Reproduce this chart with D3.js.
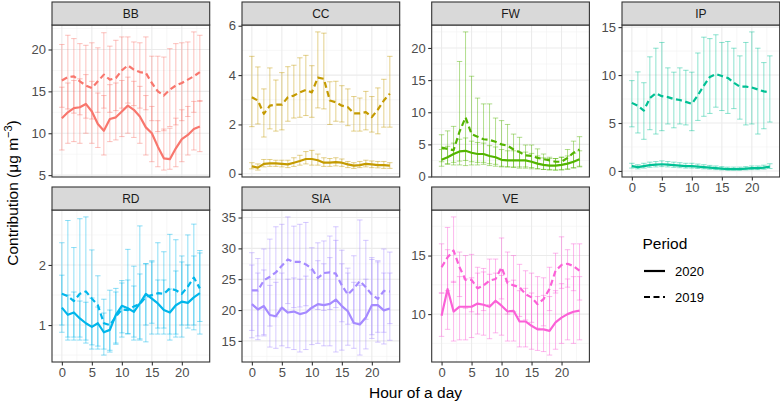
<!DOCTYPE html>
<html><head><meta charset="utf-8">
<script src="https://cdn.jsdelivr.net/npm/d3@7"></script>
<style>body{margin:0;background:#fff}svg{display:block}text{font-family:"Liberation Sans",Arial,Helvetica,sans-serif}</style>
</head><body><svg id="c" width="780" height="402"></svg>
<script>
const hours = d3.range(0, 24);
const sources = ["BB","CC","FW","IP","RD","SIA","VE"];
const periods = ["2020","2019"];
const colors = ["#F8766D","#C49A00","#53B400","#00C094","#00B6EB","#A58AFF","#FB61D7"];
const xTickLabels = [0,5,10,15,20];
const BB_ticks = [5,10,15,20], CC_ticks = [0,2,4,6], FW_ticks = [0,5,10,15,20], IP_ticks = [0,5,10,15], RD_ticks = [1,2], SIA_ticks = [15,20,25,30,35], VE_ticks = [10,15];

// BB
const BB_2020_mean = [11.8,12.5,13.0,13.1,13.5,12.6,11.1,10.3,11.7,11.9,12.6,13.3,12.8,12.0,10.7,10.0,8.4,7.0,6.9,8.2,9.3,9.8,10.5,10.8];
const BB_2020_lo = [8.0,8.8,9.0,8.8,10.0,8.8,8.3,7.4,9.0,9.2,9.6,10.0,9.5,8.8,7.4,6.6,6.0,5.6,5.7,6.0,6.6,7.4,8.0,7.8];
const BB_2020_hi = [15.5,16.0,16.3,16.5,17.0,16.2,14.8,14.5,15.8,16.0,16.3,16.7,16.2,15.6,14.5,13.2,11.5,10.5,10.6,11.8,12.8,13.2,13.8,13.9];
const BB_2019_mean = [16.3,16.7,16.8,16.2,15.7,15.4,16.2,17.0,16.4,16.6,17.5,18.1,17.6,17.3,17.2,16.0,15.0,14.5,15.2,15.7,16.0,16.4,16.8,17.3];
const BB_2019_lo = [13.1,12.9,12.4,12.2,11.8,11.7,12.5,13.0,12.5,12.7,13.0,13.6,13.3,13.0,12.8,11.5,10.2,10.3,10.8,11.0,11.5,12.0,12.5,13.8];
const BB_2019_hi = [20.6,21.7,21.3,20.7,20.5,20.8,20.2,22.0,20.4,21.1,21.5,21.5,20.9,20.8,21.5,19.2,19.2,19.1,20.1,20.7,20.8,20.9,22.1,21.7];
// CC
const CC_2020_mean = [0.3,0.25,0.4,0.42,0.42,0.4,0.38,0.45,0.52,0.6,0.6,0.55,0.45,0.45,0.47,0.45,0.38,0.33,0.35,0.4,0.38,0.35,0.35,0.33];
const CC_2020_lo = [0.2,0.15,0.28,0.3,0.3,0.28,0.25,0.3,0.35,0.4,0.35,0.35,0.3,0.3,0.32,0.3,0.25,0.22,0.25,0.28,0.25,0.24,0.22,0.22];
const CC_2020_hi = [0.45,0.4,0.58,0.58,0.55,0.55,0.55,0.65,0.75,0.9,0.95,0.8,0.65,0.62,0.65,0.6,0.5,0.45,0.5,0.55,0.52,0.5,0.5,0.45];
const CC_2019_mean = [3.1,2.97,2.43,2.76,2.8,2.8,3.1,3.17,3.3,3.4,3.3,3.9,3.85,2.97,2.9,2.76,2.7,2.45,2.45,2.5,2.3,2.6,2.97,3.25];
const CC_2019_lo = [1.91,2.02,1.49,1.82,1.73,1.78,2.13,2.26,2.29,2.36,2.29,2.67,2.63,2.0,2.13,2.1,1.95,1.73,1.73,1.78,1.69,1.62,1.89,1.89];
const CC_2019_hi = [4.76,4.33,3.44,4.29,3.8,4.1,4.34,4.4,4.7,4.8,4.38,5.75,5.7,3.73,3.75,3.57,3.44,3.13,3.07,3.34,3.13,3.48,3.83,4.76];
// FW
const FW_2020_mean = [2.6,3.0,3.5,3.9,4.0,3.7,3.5,3.5,3.2,3.0,2.6,2.5,2.5,2.5,2.5,2.3,2.0,1.8,1.7,1.7,1.8,2.0,2.3,2.7];
const FW_2020_lo = [1.6,1.9,2.2,2.4,2.5,2.3,2.2,2.2,2.0,1.9,1.6,1.5,1.5,1.5,1.5,1.4,1.2,1.1,1.0,1.0,1.1,1.2,1.4,1.6];
const FW_2020_hi = [4.2,4.7,5.2,5.8,6.0,5.5,5.3,5.2,4.8,4.6,4.2,4.0,4.0,3.8,3.8,3.6,3.2,2.9,2.8,2.8,3.0,3.2,3.6,4.0];
const FW_2019_mean = [4.5,4.3,4.1,7.0,9.2,6.6,6.2,5.8,5.7,5.4,5.0,4.8,4.2,3.8,3.3,3.2,2.9,2.7,2.5,2.3,2.3,2.9,3.7,4.2];
const FW_2019_lo = [2.3,2.0,1.8,1.8,1.7,1.8,1.8,1.9,1.7,1.6,1.5,1.5,1.4,1.3,1.3,1.2,1.2,1.1,1.1,1.0,1.0,1.1,1.3,1.5];
const FW_2019_hi = [6.5,7.1,7.8,17.9,22.5,15.6,12.2,11.3,11.3,9.1,8.7,8.1,6.6,6.1,4.9,4.9,4.3,3.5,3.0,2.8,3.0,4.2,5.5,6.2];
// IP
const IP_2020_mean = [0.5,0.4,0.5,0.6,0.65,0.7,0.65,0.6,0.55,0.5,0.5,0.45,0.4,0.35,0.3,0.25,0.2,0.2,0.2,0.25,0.3,0.3,0.35,0.45];
const IP_2020_lo = [0.3,0.22,0.3,0.38,0.42,0.45,0.42,0.38,0.34,0.3,0.3,0.26,0.22,0.18,0.14,0.11,0.09,0.09,0.09,0.11,0.14,0.14,0.18,0.25];
const IP_2020_hi = [0.8,0.65,0.8,0.92,0.98,1.05,0.98,0.92,0.86,0.8,0.8,0.72,0.65,0.58,0.52,0.45,0.4,0.4,0.4,0.45,0.52,0.52,0.6,0.75];
const IP_2019_mean = [7.1,6.8,6.3,7.6,8.1,7.8,7.7,7.5,7.4,7.2,7.0,7.9,8.9,9.8,10.1,9.9,9.7,9.2,8.8,8.8,8.7,8.5,8.3,8.2];
const IP_2019_lo = [4.6,3.96,3.3,4.3,3.85,4.2,4.9,4.5,4.9,4.8,4.2,5.27,5.7,6.0,6.65,6.3,6.0,6.5,5.4,4.8,4.9,3.85,4.4,5.1];
const IP_2019_hi = [9.42,10.33,9.2,11.9,12.8,13.4,10.75,10.3,10.75,10.5,10.3,12.3,13.95,13.8,14.2,13.4,13.5,12.8,12.0,13.4,14.5,12.8,11.3,12.0];
// RD
const RD_2020_mean = [1.29,1.17,1.21,1.11,1.03,0.97,1.03,0.88,0.92,1.17,1.32,1.28,1.22,1.36,1.52,1.44,1.36,1.25,1.21,1.33,1.39,1.37,1.46,1.53];
const RD_2020_lo = [0.88,0.75,0.75,0.75,0.7,0.6,0.6,0.5,0.55,0.7,0.8,0.85,0.75,0.75,0.72,0.85,0.85,0.85,0.75,0.8,0.8,0.95,0.92,0.85];
const RD_2020_hi = [1.83,1.5,1.55,1.4,1.38,1.45,1.3,1.2,1.25,1.55,1.7,1.75,1.65,1.85,2.02,2.05,1.75,1.75,1.6,1.9,2.05,2.0,2.15,2.2];
const RD_2019_mean = [1.52,1.48,1.4,1.52,1.56,1.44,1.33,1.03,1.0,1.14,1.26,1.25,1.31,1.35,1.47,1.5,1.53,1.52,1.61,1.58,1.52,1.64,1.79,1.61];
const RD_2019_lo = [1.0,0.8,0.8,0.8,0.75,0.67,0.65,0.6,0.58,0.68,0.87,0.86,0.8,0.77,1.0,1.03,0.95,0.95,0.85,0.85,1.0,1.0,1.0,1.06];
const RD_2019_hi = [2.37,2.74,2.29,2.77,2.8,2.25,1.82,1.43,1.58,1.61,1.74,2.26,1.98,2.65,2.02,2.07,2.37,2.22,2.51,2.42,2.15,2.5,2.68,2.24];
// SIA
const SIA_2020_mean = [20.95,20.1,20.65,19.2,19.0,20.4,19.6,19.75,19.35,19.6,20.4,20.95,20.8,21.0,21.7,20.65,19.8,17.9,17.65,18.8,20.8,20.8,19.95,20.25];
const SIA_2020_lo = [15.5,15.2,15.8,14.0,13.8,14.2,13.9,13.6,13.2,13.6,14.4,14.6,14.2,14.2,13.2,13.5,14.3,13.8,12.7,13.7,15.4,14.8,14.5,15.1];
const SIA_2020_hi = [27.3,26.0,26.5,24.0,24.5,26.0,25.0,25.2,25.0,25.5,26.5,28.0,27.5,28.5,31.3,27.5,26.0,24.5,24.0,25.0,28.5,28.0,26.0,26.0];
const SIA_2019_mean = [23.2,23.2,24.8,25.4,26.1,27.2,28.2,27.8,27.8,27.4,26.7,25.2,26.0,26.1,25.9,24.0,22.5,23.5,24.7,23.7,22.5,21.8,23.1,23.0];
const SIA_2019_lo = [16.7,15.8,16.0,17.4,18.9,20.3,21.05,20.4,20.5,20.7,20.3,20.1,19.95,20.1,20.4,18.1,17.7,17.9,17.9,18.5,16.0,16.4,16.4,17.8];
const SIA_2019_hi = [29.3,28.35,29.9,31.5,33.5,33.9,35.1,33.6,33.9,34.2,30.1,30.9,31.2,32.0,33.5,29.7,26.8,28.8,34.6,31.3,28.2,27.8,29.9,29.4];
// VE
const VE_2020_mean = [9.85,12.14,10.22,10.63,10.63,10.63,10.9,10.8,10.63,11.14,10.72,10.22,10.28,9.37,9.37,9.0,8.7,8.7,8.57,9.3,9.7,10.0,10.2,10.3];
const VE_2020_lo = [8.1,8.7,7.7,7.8,7.8,8.0,8.3,8.2,7.9,8.4,8.2,7.7,7.7,7.2,7.2,7.0,6.9,6.8,6.5,7.0,7.5,7.8,7.5,7.8];
const VE_2020_hi = [11.8,15.5,12.8,13.2,13.0,13.1,13.5,13.6,13.4,13.5,13.3,12.8,12.9,12.0,12.2,11.8,11.5,11.6,11.5,12.0,12.6,13.0,13.2,13.2];
const VE_2019_mean = [14.0,14.85,15.43,14.0,12.92,12.92,12.2,12.45,12.87,13.0,14.0,12.65,12.45,12.3,11.7,11.43,10.85,11.28,12.15,13.7,14.2,14.3,14.1,13.7];
const VE_2019_lo = [11.8,12.0,12.7,11.5,10.5,10.2,10.0,10.3,10.8,11.0,11.3,10.0,10.2,9.8,9.5,9.3,8.8,9.0,10.3,11.8,12.2,12.3,12.0,11.2];
const VE_2019_hi = [16.0,17.4,18.3,15.3,15.0,15.1,14.0,13.9,14.7,14.7,16.5,15.3,15.0,14.25,13.7,13.5,13.2,13.1,14.0,15.2,16.6,15.5,16.0,16.0];

const tables = {
  BB:{ticks:BB_ticks, d:{"2020":[BB_2020_mean,BB_2020_lo,BB_2020_hi],"2019":[BB_2019_mean,BB_2019_lo,BB_2019_hi]}},
  CC:{ticks:CC_ticks, d:{"2020":[CC_2020_mean,CC_2020_lo,CC_2020_hi],"2019":[CC_2019_mean,CC_2019_lo,CC_2019_hi]}},
  FW:{ticks:FW_ticks, d:{"2020":[FW_2020_mean,FW_2020_lo,FW_2020_hi],"2019":[FW_2019_mean,FW_2019_lo,FW_2019_hi]}},
  IP:{ticks:IP_ticks, d:{"2020":[IP_2020_mean,IP_2020_lo,IP_2020_hi],"2019":[IP_2019_mean,IP_2019_lo,IP_2019_hi]}},
  RD:{ticks:RD_ticks, d:{"2020":[RD_2020_mean,RD_2020_lo,RD_2020_hi],"2019":[RD_2019_mean,RD_2019_lo,RD_2019_hi]}},
  SIA:{ticks:SIA_ticks, d:{"2020":[SIA_2020_mean,SIA_2020_lo,SIA_2020_hi],"2019":[SIA_2019_mean,SIA_2019_lo,SIA_2019_hi]}},
  VE:{ticks:VE_ticks, d:{"2020":[VE_2020_mean,VE_2020_lo,VE_2020_hi],"2019":[VE_2019_mean,VE_2019_lo,VE_2019_hi]}}
};

const svg = d3.select("#c");
const colLeft = [52, 242, 431.7, 622];
const panelW = 157.7;
const rowTop = [2, 187];      // strip top
const stripH = 23;
const plotH = 152;
const dashes = {"2020":null, "2019":"6,3.5"};
const capW = 0.45;
// x range incl. error-bar caps, with 5% expansion
const xLo = 0 - capW, xHi = 23 + capW, xPad = (xHi - xLo) * 0.05;
const TICK_FONT = 13;

sources.forEach((src, i) => {
  const row = Math.floor(i / 4), col = i % 4;
  const left = colLeft[col];
  const top = rowTop[row] + stripH;
  const color = colors[i];
  const t = tables[src];
  const all = [];
  periods.forEach(p => { all.push(...t.d[p][1], ...t.d[p][2]); });
  const [mn, mx] = d3.extent(all);
  const pad = (mx - mn) * 0.05;
  const y = d3.scaleLinear().domain([mn - pad, mx + pad]).range([top + plotH, top]);
  const x = d3.scaleLinear().domain([xLo - xPad, xHi + xPad]).range([left, left + panelW]);
  const g = svg.append("g");

  g.append("rect").attr("x", left).attr("y", top).attr("width", panelW).attr("height", plotH).attr("fill", "#fff");
  // minor grid
  const yd = y.domain();
  const step = t.ticks[1] - t.ticks[0];
  const yMinor = [];
  for (let v = t.ticks[0] - step / 2; v <= yd[1]; v += step) if (v >= yd[0]) yMinor.push(v);
  const xMinor = [-2.5, 2.5, 7.5, 12.5, 17.5, 22.5].filter(v => v >= x.domain()[0] && v <= x.domain()[1]);
  g.selectAll(".ymin").data(yMinor).join("line")
    .attr("x1", left).attr("x2", left + panelW).attr("y1", d => y(d)).attr("y2", d => y(d))
    .attr("stroke", "#F2F2F2").attr("stroke-width", 0.6);
  g.selectAll(".xmin").data(xMinor).join("line")
    .attr("y1", top).attr("y2", top + plotH).attr("x1", d => x(d)).attr("x2", d => x(d))
    .attr("stroke", "#F2F2F2").attr("stroke-width", 0.6);
  const yMajor = t.ticks.filter(v => v >= yd[0] - 1e-6 && v <= yd[1] + 1e-6);
  g.selectAll(".ymaj").data(yMajor).join("line")
    .attr("x1", left).attr("x2", left + panelW).attr("y1", d => y(d)).attr("y2", d => y(d))
    .attr("stroke", "#EBEBEB").attr("stroke-width", 1.1);
  g.selectAll(".xmaj").data(xTickLabels).join("line")
    .attr("y1", top).attr("y2", top + plotH).attr("x1", d => x(d)).attr("x2", d => x(d))
    .attr("stroke", "#EBEBEB").attr("stroke-width", 1.1);

  // error bars
  periods.forEach(p => {
    const [mean, lo, hi] = t.d[p];
    const eb = g.append("g").attr("stroke", color).attr("stroke-opacity", 0.5).attr("stroke-width", 0.9).attr("fill", "none");
    hours.forEach(h => {
      eb.append("line").attr("x1", x(h)).attr("x2", x(h)).attr("y1", y(lo[h])).attr("y2", y(hi[h]));
      eb.append("line").attr("x1", x(h - capW)).attr("x2", x(h + capW)).attr("y1", y(lo[h])).attr("y2", y(lo[h]));
      eb.append("line").attr("x1", x(h - capW)).attr("x2", x(h + capW)).attr("y1", y(hi[h])).attr("y2", y(hi[h]));
    });
  });
  // mean lines
  periods.forEach(p => {
    const mean = t.d[p][0];
    const line = d3.line().x((d, k) => x(hours[k])).y(d => y(d));
    g.append("path").attr("d", line(mean)).attr("fill", "none").attr("stroke", color)
      .attr("stroke-width", 2.2).attr("stroke-linejoin", "round")
      .attr("stroke-dasharray", dashes[p]);
  });

  // border
  g.append("rect").attr("x", left).attr("y", top).attr("width", panelW).attr("height", plotH)
    .attr("fill", "none").attr("stroke", "#333333").attr("stroke-width", 1.1);
  // strip
  g.append("rect").attr("x", left).attr("y", rowTop[row]).attr("width", panelW).attr("height", stripH)
    .attr("fill", "#D9D9D9").attr("stroke", "#333333").attr("stroke-width", 1.1);
  g.append("text").attr("x", left + panelW / 2).attr("y", rowTop[row] + stripH / 2 + 4.3)
    .attr("text-anchor", "middle").attr("font-size", 12).attr("fill", "#1A1A1A").text(src);

  // y axis
  const ya = d3.axisLeft(y).tickValues(yMajor).tickSize(3.5).tickPadding(2.5).tickFormat(d3.format("~g"));
  const yg = g.append("g").attr("transform", `translate(${left},0)`).call(ya);
  yg.select(".domain").remove();
  yg.selectAll(".tick line").attr("stroke", "#333333").attr("stroke-width", 1.1);
  yg.selectAll(".tick text").attr("fill", "#4D4D4D").attr("font-size", TICK_FONT).attr("font-family", '"Liberation Sans",Arial,sans-serif');

  // x axis on bottom row panels and IP
  if (row === 1 || src === "IP") {
    const xa = d3.axisBottom(x).tickValues(xTickLabels).tickSize(3.5).tickPadding(2.5);
    const xg = g.append("g").attr("transform", `translate(0,${top + plotH})`).call(xa);
    xg.select(".domain").remove();
    xg.selectAll(".tick line").attr("stroke", "#333333").attr("stroke-width", 1.1);
    xg.selectAll(".tick text").attr("fill", "#4D4D4D").attr("font-size", TICK_FONT).attr("font-family", '"Liberation Sans",Arial,sans-serif');
  }
});

// axis titles
svg.append("text").attr("x", 415.5).attr("y", 398).attr("text-anchor", "middle")
  .attr("font-size", 15.5).attr("fill", "#000").text("Hour of a day");
const yt = svg.append("text").attr("transform", "translate(17.5,193) rotate(-90)").attr("text-anchor", "middle")
  .attr("font-size", 15.5).attr("fill", "#000");
yt.append("tspan").text("Contribution (μg m");
yt.append("tspan").attr("dy", -6).attr("font-size", 11).text("−3");
yt.append("tspan").attr("dy", 6).text(")");

// legend
const leg = svg.append("g");
leg.append("text").attr("x", 642.5).attr("y", 248.5).attr("font-size", 15.5).attr("fill", "#000").text("Period");
periods.forEach((p, k) => {
  const yy = 271 + k * 26;
  leg.append("line").attr("x1", 644).attr("x2", 665).attr("y1", yy).attr("y2", yy)
    .attr("stroke", "#000").attr("stroke-width", 2.2).attr("stroke-dasharray", dashes[p]);
  leg.append("text").attr("x", 675).attr("y", yy + 4.5).attr("font-size", 13).attr("fill", "#000").text(p);
});
</script></body></html>
